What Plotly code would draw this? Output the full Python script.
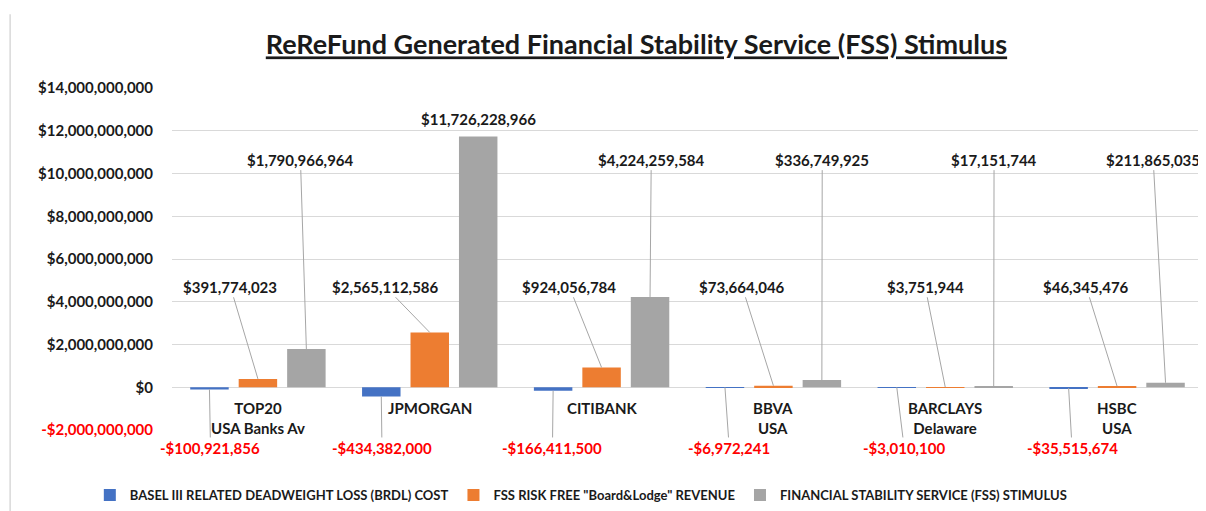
import plotly.graph_objects as go

# ---------------- data ----------------
categories = ["TOP20<br>USA Banks Av", "JPMORGAN", "CITIBANK", "BBVA<br>USA",
              "BARCLAYS<br>Delaware", "HSBC<br>USA"]
series_names = ["BASEL III RELATED DEADWEIGHT LOSS (BRDL) COST",
                "FSS RISK FREE \"Board&Lodge\" REVENUE",
                "FINANCIAL STABILITY SERVICE (FSS) STIMULUS"]
brdl_cost = [-100921856, -434382000, -166411500, -6972241, -3010100, -35515674]
fss_revenue = [391774023, 2565112586, 924056784, 73664046, 3751944, 46345476]
fss_stimulus = [1790966964, 11726228966, 4224259584, 336749925, 17151744, 211865035]
y_tick_values = [-2e9, 0, 2e9, 4e9, 6e9, 8e9, 10e9, 12e9, 14e9]

# ---------------- styling / layout helpers ----------------
colors = ["#4472C4", "#ED7D31", "#A5A5A5"]
FONT = "Lato, 'Liberation Sans', Arial, sans-serif"
TXT = "#1a1a1a"
RED = "#FF0000"
LINE = "#A6A6A6"

def money(v):
    v = int(round(v))
    return f"-${abs(v):,}" if v < 0 else f"${v:,}"

series = [brdl_cost, fss_revenue, fss_stimulus]
bar_offset = [-0.282, 0.0, 0.282]          # group slot offsets (category units)
# label placement (category-relative x, value-axis y) for the leader-line labels
label_dx = [
    [-0.276, -0.278, -0.286, -0.257, -0.239, -0.262],
    [-0.160, -0.258, -0.188, -0.182, -0.117, -0.180],
    [0.2475, None, 0.289, 0.284, 0.284, 0.21],
]
label_y = [-2.84e9, 4.70e9, 10.65e9]

fig = go.Figure()
for name, vals, col in zip(series_names, series, colors):
    fig.add_trace(go.Bar(x=categories, y=vals, name=name,
                         marker=dict(color=col, line=dict(width=0))))

annotations = []
for s, vals in enumerate(series):
    for i, v in enumerate(vals):
        color = RED if v < 0 else TXT
        dx = label_dx[s][i]
        if dx is None:
            annotations.append(dict(
                x=i + bar_offset[s], y=v, xref="x", yref="y", text=money(v),
                showarrow=False, yanchor="bottom", yshift=7,
                font=dict(family=FONT, size=15, color=color, weight="bold")))
        else:
            annotations.append(dict(
                x=i + bar_offset[s], y=v, xref="x", yref="y", text=money(v),
                showarrow=True, arrowhead=0, arrowwidth=1, arrowcolor=LINE,
                axref="x", ayref="y", ax=i + dx, ay=label_y[s], standoff=0,
                font=dict(family=FONT, size=15, color=color, weight="bold")))

# category labels next to the zero line
for c in categories:
    annotations.append(dict(x=c, y=0, xref="x", yref="y", text=c, showarrow=False,
                            yanchor="top", yshift=-10,
                            font=dict(family=FONT, size=15, color=TXT, weight="bold")))

tick_text = [f"<span style='color:{RED}'>{money(v)}</span>" if v < 0 else money(v)
             for v in y_tick_values]

# the page body adds an 8px offset, so the figure is 8px smaller than the window
fig.update_layout(
    width=1198, height=503,
    margin=dict(l=164, r=3, t=80, b=81, autoexpand=False),
    paper_bgcolor="white", plot_bgcolor="white",
    barmode="group", bargap=0.154, bargroupgap=0.206,
    title=dict(text="<span style='text-decoration:underline'>ReReFund Generated Financial Stability Service (FSS) Stimulus</span>",
               x=0.5246, xanchor="center", y=1 - 37 / 503, yanchor="middle",
               font=dict(family=FONT, size=27, color=TXT, weight="bold")),
    xaxis=dict(type="category", range=[-0.5, len(categories) - 0.5],
               showticklabels=False, showgrid=False,
               zeroline=False, showline=False, ticks="", automargin=False),
    yaxis=dict(range=[-2e9, 14e9], tickvals=y_tick_values, ticktext=tick_text,
               showgrid=True, gridcolor="#D9D9D9", gridwidth=1,
               zeroline=True, zerolinecolor="#D9D9D9", zerolinewidth=1,
               showline=False, ticks="", ticklabelstandoff=18, automargin=False,
               tickfont=dict(family=FONT, size=15, color=TXT, weight="bold")),
    legend=dict(orientation="h", xref="container", yref="container",
                x=0.0683, xanchor="left", y=0.0318, yanchor="middle",
                font=dict(family=FONT, size=13, color=TXT, weight="bold"),
                itemwidth=30, traceorder="normal"),
    annotations=annotations,
    shapes=[dict(type="line", xref="paper", yref="paper",
                 x0=-0.157, x1=-0.157, y0=1.216, y1=-0.24,
                 line=dict(color="#D9D9D9", width=1.5))],
)

fig.write_html("out.html")
